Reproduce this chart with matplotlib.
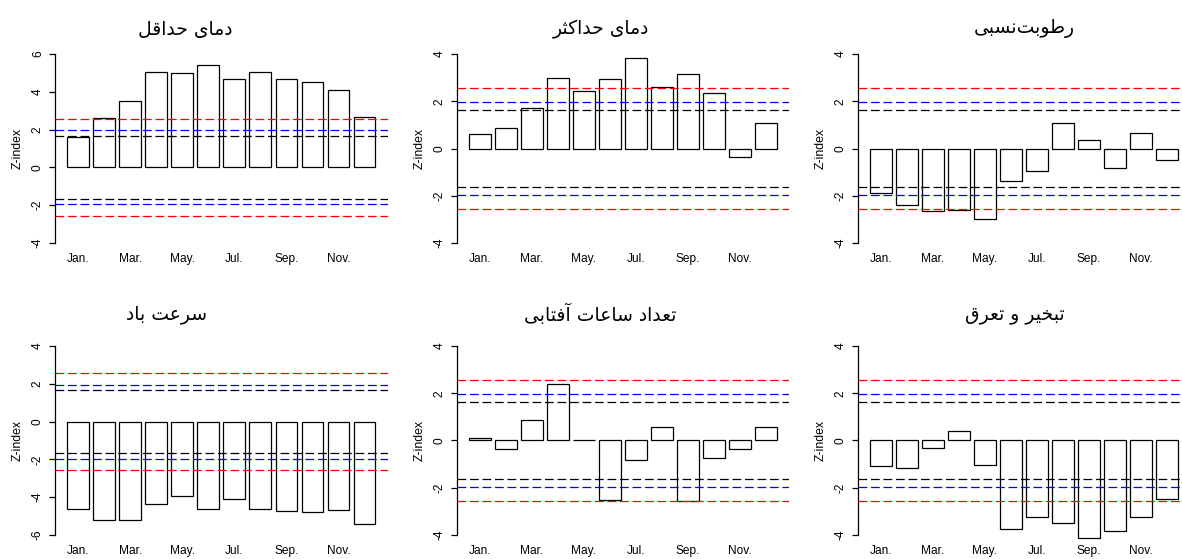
import matplotlib
matplotlib.use("Agg")
import matplotlib.pyplot as plt

months = ["Jan.", "Feb.", "Mar.", "Apr.", "May.", "Jun.",
          "Jul.", "Aug.", "Sep.", "Oct.", "Nov.", "Dec."]

tmin = [1.59, 2.59, 3.53, 5.06, 5.01, 5.41, 4.67, 5.03, 4.67, 4.50, 4.09, 2.68]
tmax = [0.63, 0.87, 1.71, 2.99, 2.43, 2.95, 3.82, 2.60, 3.15, 2.36, -0.38, 1.08]
rh = [-1.89, -2.39, -2.64, -2.62, -2.98, -1.36, -0.95, 1.08, 0.34, -0.81, 0.67, -0.48]
wind = [-4.62, -5.20, -5.20, -4.37, -3.96, -4.62, -4.10, -4.62, -4.71, -4.80, -4.67, -5.42]
sun = [0.11, -0.38, 0.88, 2.37, 0.03, -2.50, -0.83, 0.59, -2.54, -0.76, -0.38, 0.59]
evap = [-1.09, -1.17, -0.30, 0.42, -1.02, -3.73, -3.25, -3.48, -4.11, -3.82, -3.22, -2.47]

titles = ["دمای حداقل", "دمای حداکثر", "رطوبت\u200cنسبی",
          "سرعت باد", "تعداد ساعات آفتابی", "تبخیر و تعرق"]
series = [tmin, tmax, rh, wind, sun, evap]
ylims = [(-4, 6), (-4, 4), (-4, 4), (-6, 4), (-4, 4), (-4, 4)]

# critical z values: 90%, 95%, 99%
levels = [1.645, 1.96, 2.576]
level_colors = ["black", "blue", "red"]

# tiny arabic shaper (matplotlib does no joining / bidi)
FORMS = {
    "ا": ("\uFE8D", "\uFE8E"), "آ": ("\uFE81", "\uFE82"),
    "د": ("\uFEA9", "\uFEAA"), "ر": ("\uFEAD", "\uFEAE"),
    "و": ("\uFEED", "\uFEEE"),
    "ب": ("\uFE8F", "\uFE90", "\uFE91", "\uFE92"),
    "ت": ("\uFE95", "\uFE96", "\uFE97", "\uFE98"),
    "ث": ("\uFE99", "\uFE9A", "\uFE9B", "\uFE9C"),
    "ح": ("\uFEA1", "\uFEA2", "\uFEA3", "\uFEA4"),
    "خ": ("\uFEA5", "\uFEA6", "\uFEA7", "\uFEA8"),
    "س": ("\uFEB1", "\uFEB2", "\uFEB3", "\uFEB4"),
    "ط": ("\uFEC1", "\uFEC2", "\uFEC3", "\uFEC4"),
    "ع": ("\uFEC9", "\uFECA", "\uFECB", "\uFECC"),
    "ف": ("\uFED1", "\uFED2", "\uFED3", "\uFED4"),
    "ق": ("\uFED5", "\uFED6", "\uFED7", "\uFED8"),
    "ل": ("\uFEDD", "\uFEDE", "\uFEDF", "\uFEE0"),
    "م": ("\uFEE1", "\uFEE2", "\uFEE3", "\uFEE4"),
    "ن": ("\uFEE5", "\uFEE6", "\uFEE7", "\uFEE8"),
    "\u06A9": ("\uFB8E", "\uFB8F", "\uFB90", "\uFB91"),
    "\u06CC": ("\uFBFC", "\uFBFD", "\uFBFE", "\uFBFF"),
}


def shape(text):
    text = text.replace("\u064A", "\u06CC").replace("\u0643", "\u06A9")
    out = []
    for i, c in enumerate(text):
        if c not in FORMS:
            out.append(c)
            continue
        prev = text[i - 1] if i > 0 else ""
        nxt = text[i + 1] if i + 1 < len(text) else ""
        f = FORMS[c]
        jp = prev in FORMS and len(FORMS[prev]) == 4
        jn = len(f) == 4 and nxt in FORMS
        if jp and jn:
            out.append(f[3])
        elif jp:
            out.append(f[1])
        elif jn:
            out.append(f[2])
        else:
            out.append(f[0])
    return "".join(out).replace("\u200c", "")[::-1]


plt.rcParams["font.family"] = ["Liberation Sans", "DejaVu Sans"]

W, H = 1182, 559
fig = plt.figure(figsize=(W / 100, H / 100), dpi=100)

lefts = [55, 456.7, 857.7]
tops = [46.4, 338.4]
aw, ah = 332.6, 204.2
title_x = [185, 601, 1024, 167, 600, 1015]
title_y = [29, 314]

centers = [0.7 + 1.2 * i for i in range(12)]

for k in range(6):
    r, c = divmod(k, 3)
    ax = fig.add_axes([lefts[c] / W, 1 - (tops[r] + ah) / H, aw / W, ah / H])
    lo, hi = ylims[k]
    ax.bar(centers, series[k], width=1.0, color="white", edgecolor="black",
           linewidth=0.9, zorder=2)
    for lv, col in zip(levels, level_colors):
        for s in (1, -1):
            ax.axhline(s * lv, color=col, linewidth=0.9, dashes=(7, 3), zorder=3)
    ax.set_xlim(-0.368, 14.968)
    ext = 0.04 * (hi - lo)
    ax.set_ylim(lo - ext, hi + ext)
    ax.set_yticks(range(lo, hi + 1, 2))
    ax.set_yticklabels([str(v) for v in range(lo, hi + 1, 2)], rotation=90,
                       va="center", fontsize=8.6)
    ax.tick_params(axis="y", length=4, width=0.9, pad=4)
    ax.set_xticks(centers[::2])
    ax.set_xticklabels(months[::2], fontsize=8.6)
    ax.tick_params(axis="x", length=0, pad=2)
    for sp in ["top", "right", "bottom"]:
        ax.spines[sp].set_visible(False)
    ax.spines["left"].set_bounds(lo, hi)
    ax.spines["left"].set_linewidth(0.9)
    ax.patch.set_alpha(0)
    ax.text(-37.5 / aw, 0.5, "Z-index", transform=ax.transAxes, rotation=90,
            ha="center", va="center", fontsize=8.8)
    fig.text(title_x[k] / W, 1 - title_y[r] / H, shape(titles[k]),
             ha="center", va="center", fontsize=13.5, family=["DejaVu Sans"])

fig.savefig("out.png", dpi=100)
